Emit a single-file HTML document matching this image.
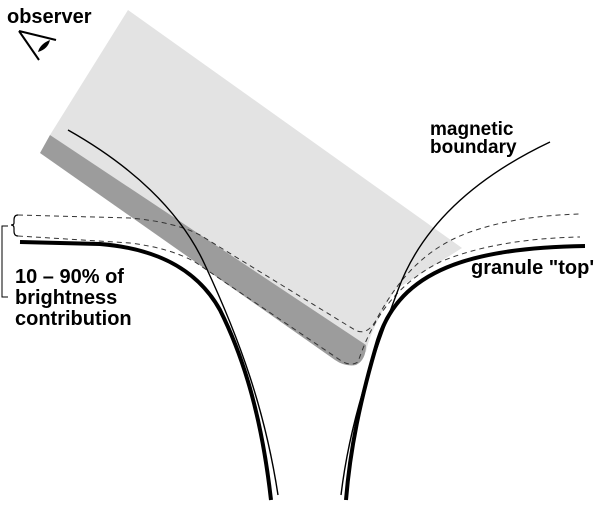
<!DOCTYPE html>
<html><head><style>
html,body{margin:0;padding:0;background:#fff;width:600px;height:505px;overflow:hidden}
text{font-family:"Liberation Sans",sans-serif;font-weight:bold;fill:#000}
</style></head><body>
<svg width="600" height="505" viewBox="0 0 600 505" xmlns="http://www.w3.org/2000/svg">
<path d="M128,10 L462,248 L395,290 Q370,330 366,352 L50,135 Z" fill="#e3e3e3"/>
<path d="M50,135 L366,345 Q366,360 356,365 Q345,367 335,360 L40,153 Z" fill="#9c9c9c"/>
<g fill="none" stroke="#333" stroke-width="1" stroke-dasharray="5,4">
<path d="M18,215 L130,218 Q175,222 200,235 L355,330 Q366,336 375,322 C395,285 420,250 470,232 C510,218 550,215 580,214"/>
<path d="M18,236 L130,243 Q170,248 195,262 L340,360 Q350,367 358,362 C372,320 395,285 440,262 C480,245 530,238 580,237"/>
</g>
<g fill="none" stroke="#000" stroke-width="4">
<path d="M20,242 L100,244 C150,248 195,265 220,310 C245,360 262,420 271,500"/>
<path d="M585,246 C470,248 400,270 378,340 C360,400 350,450 346,500"/>
</g>
<g fill="none" stroke="#000" stroke-width="1.4">
<path d="M68,130 C130,165 180,210 205,265 C240,340 265,410 278,495"/>
<path d="M550,142 C470,180 420,230 398,290 C372,360 350,420 341,495"/>
</g>
<path d="M8,226 L2,226 L2,297 L8,297" fill="none" stroke="#000" stroke-width="1"/>
<path d="M18,215 Q14,215 14,220 L14,223 Q14,225 11,225 Q14,225 14,228 L14,231 Q14,236 18,236" fill="none" stroke="#000" stroke-width="1.2"/>
<g fill="none" stroke="#000" stroke-width="2">
<path d="M19,31 L56,40"/>
<path d="M19,31 L39,60"/>
</g>
<path d="M38,52 Q40,44 50,40 Q48,49 38,52 Z" fill="#000"/>
<text x="7" y="23" font-size="20">observer</text>
<text x="430" y="135" font-size="19">magnetic</text>
<text x="430" y="153" font-size="19">boundary</text>
<text x="471" y="274" font-size="20">granule "top'</text>
<text x="15" y="283" font-size="20">10 – 90% of</text>
<text x="15" y="304" font-size="20">brightness</text>
<text x="15" y="325" font-size="20">contribution</text>
</svg>
</body></html>
